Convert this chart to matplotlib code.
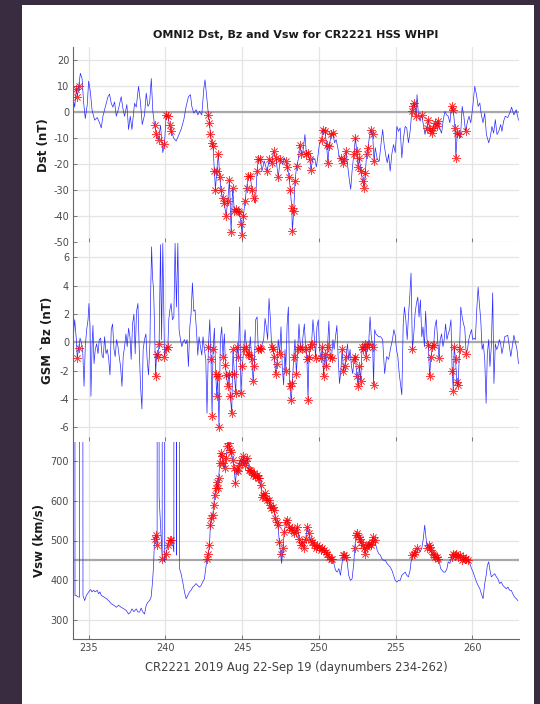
import numpy as np
import matplotlib
matplotlib.use("Agg")
import matplotlib.pyplot as plt
from matplotlib.patches import Rectangle

plt.rcParams["axes.unicode_minus"] = False

# ---------------- data ----------------
dst_days = [234.0,234.09,234.2,234.27,234.35,234.46,234.57,234.67,234.78,234.91,235.0,235.11,235.22,235.39,235.56,235.71,235.82,235.93,
            236.08,236.26,236.36,236.47,236.58,236.69,236.8,236.95,237.12,237.23,237.34,237.49,237.6,237.71,237.82,237.99,238.1,238.25,
            238.38,238.49,238.64,238.75,238.86,238.97,239.08,239.18,239.29,239.4,239.55,239.68,239.83,239.94,240.05,240.16,240.27,240.37,
            240.55,240.7,240.85,241.02,241.2,241.35,241.5,241.63,241.72,241.85,242.0,242.11,242.22,242.37,242.5,242.58,242.71,242.8,
            242.87,242.93,243.02,243.1,243.19,243.26,243.34,243.45,243.54,243.62,243.73,243.84,243.95,244.06,244.17,244.28,244.38,244.49,
            244.6,244.71,244.82,244.93,244.99,245.08,245.19,245.29,245.4,245.53,245.64,245.75,245.86,245.97,246.05,246.18,246.29,246.44,
            246.62,246.77,246.92,247.05,247.2,247.35,247.48,247.63,247.74,
            247.84,247.95,248.06,248.14,248.23,248.27,248.36,248.44,248.55,248.66,248.75,248.86,248.96,249.09,249.18,249.27,249.4,249.48,
            249.61,249.74,249.83,249.91,250.04,250.17,250.26,250.39,250.5,250.58,250.67,250.8,250.91,251.02,251.12,251.23,251.34,251.45,
            251.56,251.66,251.77,251.86,251.99,252.07,252.16,252.27,252.38,252.46,252.55,252.64,252.72,252.85,252.94,253.02,253.11,253.2,
            253.28,253.39,253.5,253.59,253.67,253.8,253.93,254.04,254.15,254.25,254.36,254.45,254.54,254.64,254.75,254.86,254.97,255.08,
            255.18,255.29,255.4,255.51,255.62,255.72,255.83,255.94,256.05,256.13,256.22,256.33,256.39,256.48,256.59,256.7,256.8,256.91,
            257.02,257.13,257.24,257.34,257.45,257.56,257.67,257.78,257.88,257.99,258.1,258.21,258.32,258.42,258.53,258.64,258.75,258.86,
            258.92,259.01,259.11,259.22,259.33,259.44,259.55,259.68,259.78,259.89,260.0,260.15,260.26,260.37,260.48,260.58,260.69,260.8,
            260.91,261.06,261.17,261.27,261.38,261.49,261.6,261.71,261.84,261.92,262.03,262.14,262.3,262.45,262.55,262.7,262.85,263.0]
dst_vals = [5,2,9,6,10,15,13,4,-2.4,3,12,8,1,-3,-2,-4,-6,-1.5,
            2,6,7,3.5,2,4,-1.5,1.5,6,1.5,-1.5,3,-6.6,-1.5,-6.6,3.5,2,10,
            3.5,-4.7,-1,7.4,2.3,3.5,13,0.4,-4.7,-8.5,-10.5,-5,-15.5,-12,-1,-1.5,-5,-7,
            -10,-11,-9,-6.6,-2.8,2.3,6,6.8,2.3,-0.3,1,-1,0.4,-1,9,12.5,4.8,-1,
            -4,-8.5,-11.7,-13,-22.6,-30,-22.6,-16,-25,-30,-33,-35,-40,-34,-26,-46,-29,-38,
            -37,-38,-38.5,-43,-47,-40,-34,-29,-24.5,-24.5,-30,-33,-35,-22.6,-18,-18,-22.6,-18.7,
            -22.6,-18,-19.4,-15,-17.5,-25,-18,-20,-17.5,
            -18.7,-21,-25,-30,-36.6,-45.5,-38,-26.4,-20.6,-18,-12.4,-16,-15,-8.5,-16,-15.5,-18,-22,
            -17.5,-18,-21,-18,-11.7,-10.5,-6.6,-7.3,-12.4,-19.4,-13,-8.5,-8,-11.7,-10.5,-13.6,-18,-17.5,
            -19.4,-18,-15,-20,-26.4,-29.6,-22.6,-16,-9.8,-15,-21,-17.5,-22.6,-26.4,-29,-23.2,-16,-13.6,
            -9.8,-6.6,-8.5,-18.7,-13.6,-18,-18.7,-12.4,-6.6,-12.4,-16.8,-19.4,-16,-22.6,-16,-12.4,-15.5,-5.4,
            -7.3,-6,-17.5,-9.8,-5.4,-6,-11.7,-7.3,0.4,2.3,3.6,-1.5,6.8,-1,-3.4,-1,-4.7,-8.5,
            -6,-2.8,-6.6,-8,-6,-4,-5.4,-3.4,-6.6,-8,-2.8,0.4,-1,-1.5,-4,2.3,1,-6,
            -17.5,-8,-8.5,-9.8,2.3,-1.5,-7.3,-3.4,-1.5,-4,1,10,6.8,2.3,3.6,-1,-4,-0.3,
            -8.5,-11.7,-9.2,-5.4,-8,-2.8,-8.5,-7.3,-4.7,-7.3,-3.4,-1.5,-2,0,2,-1,1,-3]

bz_days = [234.0,234.09,234.2,234.26,234.35,234.44,234.52,234.61,234.7,234.78,234.87,234.96,235.02,235.09,235.15,235.22,235.28,235.35,
           235.43,235.52,235.61,235.69,235.78,235.87,235.95,236.04,236.13,236.21,236.3,236.39,236.47,236.56,236.65,236.73,236.82,236.91,
           236.99,237.08,237.17,237.25,237.34,237.43,237.51,237.6,237.69,237.77,237.86,237.95,238.03,238.12,238.21,238.29,238.38,238.47,
           238.55,238.64,238.73,238.81,238.9,238.99,239.03,239.1,239.16,239.23,239.29,239.36,239.42,239.51,239.59,239.68,239.75,239.83,
           239.94,240.05,240.16,240.22,240.29,240.37,240.46,240.55,240.63,240.72,240.81,240.89,240.98,241.07,241.15,241.24,241.33,241.41,
           241.5,241.59,241.67,241.76,241.85,241.93,242.02,242.11,242.19,242.28,242.37,242.45,242.54,242.63,242.71,242.8,242.89,242.97,
           243.04,243.1,243.19,243.28,243.34,243.41,243.49,243.58,243.67,243.75,243.84,243.91,243.97,244.06,244.14,244.23,244.32,244.4,
           244.49,244.58,244.66,244.75,244.84,244.92,245.01,245.1,245.19,245.27,245.36,245.45,245.53,245.62,245.71,245.79,245.88,245.97,
           246.05,246.14,246.23,246.31,246.4,246.49,246.57,246.66,246.75,246.83,246.92,247.01,247.09,247.18,247.27,247.35,247.44,247.53,
           247.61,247.7,247.79,
           247.84,247.93,248.01,248.1,248.19,248.27,248.36,248.44,248.53,248.62,248.7,248.79,248.88,248.96,249.05,249.14,249.22,249.29,
           249.35,249.44,249.52,249.61,249.7,249.78,249.87,249.96,250.04,250.13,250.22,250.3,250.39,250.48,250.56,250.65,250.73,250.82,
           250.91,250.99,251.08,251.17,251.25,251.34,251.43,251.51,251.6,251.68,251.77,251.86,251.94,252.03,252.12,252.2,252.29,252.38,
           252.46,252.55,252.63,252.72,252.81,252.89,252.98,253.07,253.15,253.24,253.33,253.41,253.5,253.56,253.63,253.71,253.8,253.89,
           254.02,254.15,254.28,254.41,254.54,254.67,254.79,254.88,254.97,255.05,255.14,255.23,255.31,255.4,255.49,255.57,255.66,255.75,
           255.83,255.92,256.0,256.09,256.18,256.26,256.35,256.44,256.52,256.61,256.7,256.78,256.87,256.95,257.04,257.13,257.21,257.3,
           257.39,257.47,257.56,257.65,257.73,257.82,257.9,257.99,258.08,258.16,258.25,258.34,258.42,258.51,258.6,258.68,258.75,258.81,
           258.9,258.98,259.07,259.16,259.24,259.33,259.42,259.5,259.59,259.68,259.76,259.85,259.94,260.02,260.11,260.19,260.28,260.37,
           260.45,260.54,260.63,260.71,260.8,260.89,260.97,261.06,261.14,261.23,261.32,261.4,261.49,261.58,261.66,261.75,261.84,261.92,
           262.01,262.1,262.3,262.5,262.7,262.9,263.0]
bz_vals = [0.4,1.6,0.2,-1.1,-0.4,0.3,0,-0.5,-3.1,-0.3,0.9,1.6,2.75,1.1,-3.8,-0.3,1.2,-1.5,
           -0.5,-0.1,-0.8,0.2,0.3,-0.9,-1.1,0.4,-0.8,-0.5,-1.1,-2.3,0.9,1.3,-0.5,-1,0.2,-0.3,
           -1,-1.7,-3.1,-1,-0.3,0.6,-0.3,1.0,0.4,-1.2,1.3,2.0,-0.8,2.2,2.75,-0.3,-3.1,-4.7,
           -0.5,0.2,0.6,-1.2,-2.3,-0.1,3.0,6.75,4.6,3.7,1.3,-2.4,-0.8,-1,-0.1,6.9,0.2,7.0,
           -1,-0.5,-0.3,1.6,2.3,2.75,1.6,1.8,7.0,2.5,7.0,0.9,0.2,-0.3,0,0.2,-0.1,0.2,
           -1.7,1.1,2.0,4.2,2.2,2.3,0.9,-0.9,0.4,-0.3,-0.9,0.4,-0.5,-1.2,-5,-0.3,1.6,-1.2,
           -5.2,-0.5,1.0,-2.2,-3.8,-2.4,-6,0.2,1.1,-1,0.6,-1.6,-2.3,-3.1,-2.2,-3.8,-5,-0.5,
           -2.2,-3.6,-0.3,-1,2.5,-3.6,-1.7,-0.5,0.9,-0.3,-0.8,-0.9,0.4,-1.2,-2.7,-1.7,1.6,1.8,
           -0.5,-0.4,-0.5,-0.1,0.2,1.7,1.1,0.2,3.1,1.8,-0.3,-0.5,-1,-2.2,-1.5,0.2,-0.8,1.1,
           -1.7,-3.0,-0.5,
           -2,1.3,2.5,-3.1,-4.1,-2.9,-1,0.2,-2.2,-0.5,1.3,-0.3,-0.5,0.4,1.3,-0.5,-1.2,-4.1,
           -1,-0.3,-0.1,1.6,0.4,-1.1,1.1,1.6,-0.5,-1.1,-0.3,-2.4,-0.8,-1.7,-0.3,1.5,-1,-1.1,
           0.2,-0.5,0.4,1.2,-1,-2.9,-2,-0.5,-2,-1.7,-1,-0.1,-1.2,-0.5,-1.7,-2.2,-1.2,-1,
           -2.4,-3.1,-1.7,-2.7,-0.3,-0.5,-0.1,-1,-0.3,-0.1,1.8,0.4,-0.3,-3.0,0.9,0.6,0.5,0.4,
           0.4,0.2,-2.2,-1,-1.2,-0.4,0.2,0.9,0.5,-0.5,-1,-2.2,-2.9,-3.7,1.3,2.5,1.6,0.2,
           1.8,3.3,4.9,-0.5,0.6,2.0,2.75,3.2,1.8,3.0,0.4,1.1,-0.3,2.2,0.2,-0.2,-2.4,-1,
           -0.3,-0.2,1.1,1.6,0.2,-1.1,0.2,0.6,-0.3,0.2,1.3,0.2,0.6,0.9,1.6,-2,-3.4,-0.3,
           -1.2,-2.8,-3.0,-0.5,2.5,1.8,1.3,1.0,-0.8,-0.5,0.2,0.6,0.9,0.2,0.3,0.2,2.3,3.9,
           2.75,1.6,-0.5,-0.1,-1.2,-4.3,-0.8,0.2,-1.7,-0.3,3.5,-2.9,-0.1,-0.5,-0.3,0.2,-0.1,-0.8,
           -0.3,0.4,0.5,-1,0.5,-0.5,-1.5]

vsw_days = [234.0,234.05,234.11,234.2,234.31,234.41,234.48,234.63,234.74,234.85,235.0,235.13,235.22,235.32,235.43,235.56,235.65,235.74,
            235.82,236.0,236.15,236.3,236.47,236.65,236.8,236.95,237.12,237.3,237.45,237.6,237.73,237.82,237.95,238.1,238.21,238.32,
            238.42,238.53,238.64,238.75,238.86,238.97,239.07,239.16,239.23,239.29,239.38,239.46,239.53,239.59,239.79,239.88,239.94,240.05,
            240.16,240.27,240.37,240.48,240.55,240.63,240.72,240.85,240.92,241.02,241.13,241.24,241.35,241.46,241.57,241.67,241.78,241.89,
            242.0,242.11,242.22,242.32,242.43,242.54,242.63,242.71,242.8,242.87,242.93,243.0,243.08,243.15,243.21,243.28,243.34,243.41,
            243.47,243.54,243.6,243.69,243.78,243.86,243.95,244.04,244.12,244.21,244.3,244.38,244.47,244.56,244.64,244.73,244.82,244.9,
            244.99,245.08,245.16,245.25,245.34,245.42,245.51,245.6,245.68,245.77,245.86,245.94,246.03,246.12,246.21,246.29,246.38,246.46,
            246.55,246.64,246.72,246.81,246.9,246.98,247.07,247.16,247.24,247.33,247.42,247.5,247.57,247.66,247.74,
            247.84,247.95,248.06,248.16,248.27,248.38,248.49,248.6,248.7,248.81,248.92,249.03,249.14,249.24,249.35,249.46,249.57,249.68,
            249.78,249.89,250.0,250.11,250.22,250.32,250.43,250.54,250.65,250.76,250.86,250.97,251.08,251.19,251.3,251.4,251.51,251.58,
            251.66,251.75,251.84,251.94,252.05,252.16,252.27,252.33,252.42,252.51,252.59,252.68,252.76,252.85,252.94,253.02,253.11,253.2,
            253.28,253.37,253.46,253.54,253.63,253.71,253.8,253.89,254.0,254.1,254.21,254.32,254.43,254.54,254.64,254.75,254.86,254.97,
            255.08,255.18,255.29,255.4,255.51,255.62,255.72,255.83,255.94,256.0,256.09,256.18,256.26,256.37,256.48,256.59,256.7,256.8,
            256.89,256.98,257.06,257.15,257.24,257.32,257.41,257.49,257.58,257.67,257.75,257.84,257.93,258.01,258.12,258.23,258.34,258.42,
            258.53,258.64,258.75,258.86,258.96,259.07,259.18,259.29,259.4,259.5,259.61,259.72,259.83,259.94,260.04,260.15,260.26,260.37,
            260.48,260.58,260.69,260.8,260.91,260.97,261.06,261.14,261.23,261.34,261.45,261.56,261.66,261.77,261.88,261.99,262.1,262.2,
            262.31,262.42,262.53,262.63,262.74,262.85,262.96]
vsw_vals = [353,9999,361,361,357,357,9999,361,348,361,370,376,370,374,370,374,365,370,
            361,357,353,348,340,336,331,336,331,327,323,314,319,327,320,327,319,319,
            329,319,314,336,344,348,357,395,437,505,514,488,9999,611,454,9999,446,467,
            488,501,501,492,471,9999,463,9999,429,416,395,370,353,361,370,374,382,386,
            391,386,382,386,395,403,429,454,467,488,539,556,564,590,615,632,649,632,
            658,696,721,713,696,683,708,738,747,730,725,704,683,645,679,675,692,704,
            696,713,692,700,708,679,679,675,666,670,662,666,658,658,641,611,615,620,
            607,603,603,590,581,586,577,556,547,539,497,467,442,480,522,
            547,552,535,526,531,518,522,535,505,488,497,480,505,535,518,501,497,488,
            480,488,484,475,480,475,471,467,458,454,454,442,425,420,429,412,442,463,
            463,458,446,412,399,403,442,480,514,518,510,505,497,488,480,467,484,488,
            492,488,497,510,501,488,475,467,463,454,450,450,442,437,433,425,412,399,
            395,399,399,412,416,420,412,408,425,446,463,467,471,480,480,471,480,505,
            539,505,480,488,484,475,467,463,458,458,454,446,429,425,420,420,429,446,
            442,458,467,463,467,458,463,450,458,454,454,450,442,429,420,408,395,386,
            378,365,353,391,416,437,446,425,408,412,416,408,403,391,395,386,382,378,
            382,374,374,365,357,353,348]

# time intervals flagged with red asterisks
dst_bz_flag_intervals = [(234.12, 234.45), (239.22, 239.6), (239.9, 240.42), (242.72, 245.85), (245.95, 246.25),
                         (246.6, 247.6), (247.8, 248.65), (248.7, 248.95), (249.1, 249.6), (249.75, 249.8),
                         (250.05, 250.95), (251.45, 251.85), (252.25, 253.25), (253.35, 253.6), (256.0, 256.35),
                         (256.65, 256.75), (257.0, 257.85), (258.6, 259.2), (259.5, 259.65)]
vsw_flag_intervals = [(239.25, 239.5), (239.75, 240.45), (242.7, 250.9), (251.45, 251.86), (252.25, 253.65),
                      (255.9, 256.4), (257.0, 257.9), (258.55, 259.75)]
vsw_threshold = 450

xticks = [235, 240, 245, 250, 255, 260]
dst_ticks = [-50, -40, -30, -20, -10, 0, 10, 20]
bz_ticks = [-6, -4, -2, 0, 2, 4, 6]
vsw_ticks = [300, 400, 500, 600, 700]

title = "OMNI2 Dst, Bz and Vsw for CR2221 HSS WHPI"
xlabel = "CR2221 2019 Aug 22-Sep 19 (daynumbers 234-262)"

# ---------------- helpers ----------------
def in_intervals(t, intervals):
    t = np.asarray(t)
    m = np.zeros(t.shape, bool)
    for a, b in intervals:
        m |= (t >= a) & (t <= b)
    return m

dst_t, dst_v = np.array(dst_days), np.array(dst_vals, float)
bz_t, bz_v = np.array(bz_days), np.array(bz_vals, float)
vsw_t, vsw_v = np.array(vsw_days), np.array(vsw_vals, float)

dst_m = in_intervals(dst_t, dst_bz_flag_intervals)
bz_m = in_intervals(bz_t, dst_bz_flag_intervals) & (bz_v < 0)
vsw_m = in_intervals(vsw_t, vsw_flag_intervals) & (vsw_v >= vsw_threshold) & (vsw_v < 1000)

# ---------------- figure ----------------
W, H = 540, 704
fig = plt.figure(figsize=(W / 100, H / 100), dpi=100, facecolor="#3a2c40")
bg = Rectangle((22 / W, 0), 512 / W, (H - 5) / H, transform=fig.transFigure,
               facecolor="white", edgecolor="none", zorder=-10)
fig.add_artist(bg)

left = 73.3 / W
width = (518.5 - 73.3) / W

def fy(px):
    return 1 - px / H

ax1 = fig.add_axes([left, fy(242.4), width, (242.4 - 47.3) / H])
ax2 = fig.add_axes([left, fy(441.5), width, (441.5 - 243.3) / H])
ax3 = fig.add_axes([left, fy(639.3), width, (639.3 - 441.7) / H])

tick_color = "#4a4a4a"
spine_color = "#666666"
grid_color = "#e4e4e4"
ref_color = "#a8a8a8"
ast = (8, 2, 0)

panels = [
    (ax1, dst_t, dst_v, dst_m, (-50, 25), dst_ticks, 0),
    (ax2, bz_t, bz_v, bz_m, (-7, 7), bz_ticks, 0),
    (ax3, vsw_t, vsw_v, vsw_m, (250, 750), vsw_ticks, vsw_threshold),
]
for ax, t, v, m, yl, yt, ref in panels:
    ax.patch.set_alpha(0)
    ax.set_xlim(234, 263)
    ax.set_ylim(*yl)
    ax.set_xticks(xticks)
    ax.set_yticks(yt)
    ax.grid(True, color=grid_color, lw=0.9)
    ax.set_axisbelow(True)
    ax.axhline(ref, color=ref_color, lw=1.6, zorder=1.5)
    ax.plot(t, v, color="#2a2aff", lw=0.5, zorder=2)
    ax.plot(t[m], v[m], linestyle="none", marker=ast, ms=6, mew=0.55,
            color="red", alpha=0.75, zorder=3)
    for s in ("top", "right"):
        ax.spines[s].set_visible(False)
    ax.spines["left"].set_color(spine_color)
    ax.spines["left"].set_linewidth(0.8)
    ax.spines["bottom"].set_color(spine_color)
    ax.spines["bottom"].set_linewidth(0.8)
    ax.tick_params(direction="in", length=3, width=0.6, color=spine_color,
                   labelcolor=tick_color, labelsize=7, pad=3)

for ax in (ax1, ax2):
    ax.spines["bottom"].set_visible(False)
    ax.tick_params(axis="x", labelbottom=False)

fig.text(296 / W, fy(35), title, ha="center", va="center", fontsize=8, fontweight="bold", color="#1a1a1a")
fig.text(43.5 / W, fy(145), "Dst (nT)", rotation=90, ha="center", va="center",
         fontsize=8.5, fontweight="bold", color="#1a1a1a")
fig.text(47.5 / W, fy(340), "GSM `Bz (nT)", rotation=90, ha="center", va="center",
         fontsize=8.5, fontweight="bold", color="#1a1a1a")
fig.text(39.0 / W, fy(540.5), "Vsw (km/s)", rotation=90, ha="center", va="center",
         fontsize=8.5, fontweight="bold", color="#1a1a1a")
fig.text(296.7 / W, fy(667), xlabel, ha="center", va="center", fontsize=8.3, color="#404040")

fig.savefig("out.png", dpi=100, facecolor=fig.get_facecolor())
